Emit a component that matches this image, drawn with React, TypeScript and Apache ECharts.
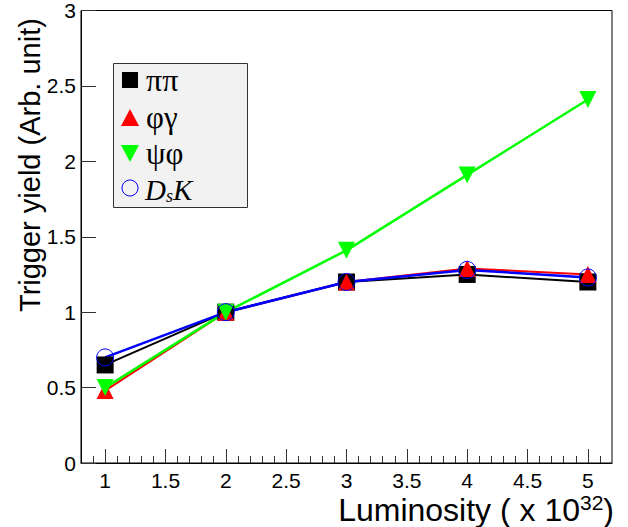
import React, { useEffect, useRef } from "react";
import * as echarts from "echarts";

const xValues = [1, 2, 3, 4, 5];
const pipi = [0.65, 1.0, 1.2, 1.25, 1.2];
const phigamma = [0.48, 1.0, 1.2, 1.29, 1.25];
const psiphi = [0.5, 1.0, 1.41, 1.91, 2.41];
const dsk = [0.7, 1.0, 1.2, 1.28, 1.23];

const xMajorTicks = [1, 1.5, 2, 2.5, 3, 3.5, 4, 4.5, 5];
const xMinorTicks = [0.9, 1.1, 1.2, 1.3, 1.4, 1.6, 1.7, 1.8, 1.9, 2.1, 2.2, 2.3, 2.4, 2.6, 2.7, 2.8, 2.9, 3.1, 3.2, 3.3, 3.4, 3.6, 3.7, 3.8, 3.9, 4.1, 4.2, 4.3, 4.4, 4.6, 4.7, 4.8, 4.9, 5.1];

const SANS = "'Liberation Sans', Arial, sans-serif";
const SERIF = "'Liberation Serif', 'Times New Roman', serif";

const pairs = (ys: number[]) => xValues.map((x, i) => [x, ys[i]]);

export default function App() {
  const ref = useRef<HTMLDivElement>(null);
  useEffect(() => {
    document.body.style.margin = "0";
    if (!ref.current) return;
    const chart = echarts.init(ref.current, undefined, { renderer: "svg" });
    const lx = 130;
    chart.setOption({
      animation: false,
      backgroundColor: "#fff",
      grid: {
        left: 81,
        right: 16,
        top: 7,
        bottom: 64,
        show: true,
        borderColor: "#000",
        borderWidth: 1,
        backgroundColor: "transparent",
      },
      xAxis: [
        {
          type: "value",
          min: 0.8,
          max: 5.2,
          position: "bottom",
          axisLine: { show: true, lineStyle: { color: "#000", width: 1 } },
          axisTick: { show: true, inside: true, length: 14, customValues: xMajorTicks, lineStyle: { color: "#333" } },
          axisLabel: {
            customValues: xMajorTicks,
            fontSize: 21,
            fontFamily: SANS,
            color: "#000",
            margin: 7,
            formatter: (v: number) => String(v),
          },
          splitLine: { show: false },
        },
        {
          type: "value",
          min: 0.8,
          max: 5.2,
          position: "bottom",
          axisLine: { show: false },
          axisTick: { show: true, inside: true, length: 7, customValues: xMinorTicks, lineStyle: { color: "#333" } },
          axisLabel: { show: false },
          splitLine: { show: false },
        },
      ],
      yAxis: {
        type: "value",
        min: 0,
        max: 3,
        interval: 0.5,
        axisLine: { show: true, lineStyle: { color: "#000", width: 1 } },
        axisTick: { show: true, inside: true, length: 15, lineStyle: { color: "#333" } },
        axisLabel: {
          fontSize: 21,
          fontFamily: SANS,
          color: "#000",
          margin: 5,
          formatter: (v: number) => String(v),
        },
        splitLine: { show: false },
      },
      series: [
        {
          name: "ππ",
          type: "line",
          data: pairs(pipi),
          symbol: "rect",
          symbolSize: 17,
          itemStyle: { color: "#000" },
          lineStyle: { color: "#000", width: 2 },
        },
        {
          name: "φγ",
          type: "line",
          data: pairs(phigamma),
          symbol: "triangle",
          symbolSize: 17,
          itemStyle: { color: "#ff0000" },
          lineStyle: { color: "#ff0000", width: 2 },
        },
        {
          name: "ψφ",
          type: "line",
          data: pairs(psiphi),
          symbol: "triangle",
          symbolRotate: 180,
          symbolSize: 17,
          itemStyle: { color: "#00ff00" },
          lineStyle: { color: "#00ff00", width: 2.5 },
        },
        {
          name: "DsK",
          type: "line",
          data: pairs(dsk),
          symbol: "circle",
          symbolSize: 17,
          itemStyle: { color: "rgba(0,0,0,0)", borderColor: "#0000ff", borderWidth: 1 },
          lineStyle: { color: "#0000ff", width: 2.5 },
        },
      ],
      graphic: [
        {
          type: "text",
          x: 30,
          y: 312,
          rotation: Math.PI / 2,
          style: {
            text: "Trigger yield (Arb. unit)",
            fontSize: 29,
            fontFamily: SANS,
            fill: "#000",
            align: "left",
            verticalAlign: "middle",
          },
        },
        {
          type: "text",
          x: 614,
          y: 510,
          style: {
            text: "{m|Luminosity ( x 10}{sup|32}{m|)}",
            fill: "#000",
            align: "right",
            verticalAlign: "middle",
            rich: {
              m: { fontSize: 32, fontFamily: SANS, fill: "#000", lineHeight: 36 },
              sup: { fontSize: 21, fontFamily: SANS, fill: "#000", verticalAlign: "top", lineHeight: 18 },
            },
          },
        },
        {
          type: "rect",
          shape: { x: 113.5, y: 63.5, width: 134, height: 144 },
          style: { fill: "#f2f2f2", stroke: "#333", lineWidth: 1 },
          z: 10,
        },
        {
          type: "rect",
          shape: { x: lx - 8, y: 72, width: 16, height: 16 },
          style: { fill: "#000" },
          z: 11,
        },
        {
          type: "polygon",
          shape: { points: [[lx, 109], [lx - 9, 126], [lx + 9, 126]] },
          style: { fill: "#ff0000" },
          z: 11,
        },
        {
          type: "polygon",
          shape: { points: [[lx - 9, 145], [lx + 9, 145], [lx, 162]] },
          style: { fill: "#00ff00" },
          z: 11,
        },
        {
          type: "circle",
          shape: { cx: lx, cy: 188, r: 8 },
          style: { fill: "none", stroke: "#0000ff", lineWidth: 1 },
          z: 11,
        },
        {
          type: "text",
          x: 146,
          y: 80,
          style: { text: "ππ", fontSize: 32, fontFamily: SERIF, fill: "#000", align: "left", verticalAlign: "middle" },
          z: 11,
        },
        {
          type: "text",
          x: 146,
          y: 117,
          style: { text: "φγ", fontSize: 31, fontFamily: SERIF, fill: "#000", align: "left", verticalAlign: "middle" },
          z: 11,
        },
        {
          type: "text",
          x: 146,
          y: 153,
          style: { text: "ψφ", fontSize: 31, fontFamily: SERIF, fill: "#000", align: "left", verticalAlign: "middle" },
          z: 11,
        },
        {
          type: "text",
          x: 145,
          y: 190,
          style: {
            text: "{a|D}{b|s}{a|K}",
            fill: "#000",
            align: "left",
            verticalAlign: "middle",
            rich: {
              a: { fontSize: 29, fontFamily: SERIF, fontStyle: "italic", fill: "#000", lineHeight: 30 },
              b: { fontSize: 18, fontFamily: SERIF, fontStyle: "italic", fill: "#000", lineHeight: 14, verticalAlign: "bottom" },
            },
          },
          z: 11,
        },
      ],
    });
    return () => chart.dispose();
  }, []);
  return <div ref={ref} style={{ width: 628, height: 527 }} />;
}
